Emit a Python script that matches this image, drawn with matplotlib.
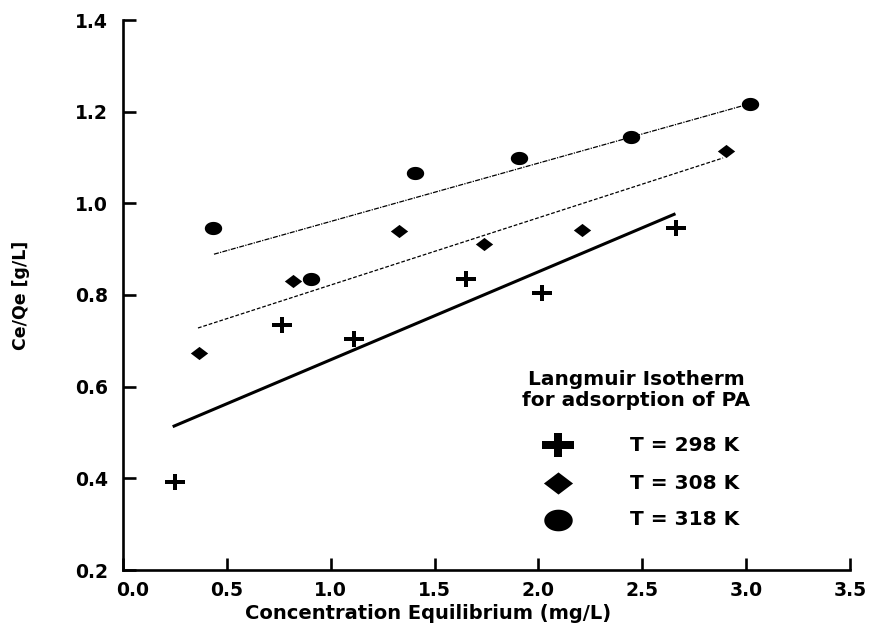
import numpy as np
import matplotlib
matplotlib.use("Agg")
import matplotlib.pyplot as plt
from matplotlib.path import Path
from matplotlib.transforms import ScaledTranslation

plt.rcParams['font.family'] = ['DejaVu Sans']
plt.rcParams['font.weight'] = 'bold'

# Ce/Qe against Ce for three temperatures
x298 = [0.25, 0.766, 1.112, 1.651, 2.017, 2.662]
y298 = [0.393, 0.734, 0.703, 0.835, 0.805, 0.946]
x308 = [0.366, 0.818, 1.329, 1.738, 2.210, 2.903]
y308 = [0.673, 0.830, 0.940, 0.912, 0.941, 1.114]
x318 = [0.433, 0.905, 1.406, 1.907, 2.445, 3.019]
y318 = [0.946, 0.834, 1.066, 1.099, 1.145, 1.217]

# linear fit lines (end points)
fit298_x = [0.246, 2.653]
fit298_y = [0.514, 0.976]
fit308_x = [0.361, 2.889]
fit308_y = [0.728, 1.099]
fit318_x = [0.438, 3.0]
fit318_y = [0.889, 1.215]

labels = ["T = 298 K", "T = 308 K", "T = 318 K"]
xticks = [0.0, 0.5, 1.0, 1.5, 2.0, 2.5, 3.0, 3.5]
yticks = [0.2, 0.4, 0.6, 0.8, 1.0, 1.2, 1.4]


def plus_path(t, b=0.75):
    return Path([(-1, -t), (-t, -t), (-t, -b), (t, -b), (t, -t), (1, -t),
                 (1, t), (t, t), (t, b), (-t, b), (-t, t), (-1, t), (-1, -t)],
                closed=True)


# slightly flattened marker shapes
plus = plus_path(0.22)
plus_big = plus_path(0.26, 0.78)
diamond = Path([(-1, 0), (0, -0.76), (1, 0), (0, 0.76), (-1, 0)], closed=True)
th = np.linspace(0, 2 * np.pi, 61)
ellipse = Path(np.column_stack([np.cos(th), 0.76 * np.sin(th)]), closed=True)

fig = plt.figure(figsize=(8.71, 6.26), dpi=100)
ax = fig.add_axes([123 / 871, 1 - 570 / 626, 727 / 871, 550 / 626])

series = [
    (x298, y298, fit298_x, fit298_y, plus, 14.5, dict(ls='-', lw=2.2)),
    (x308, y308, fit308_x, fit308_y, diamond, 12.5, dict(ls=(0, (3, 1.5)), lw=0.9)),
    (x318, y318, fit318_x, fit318_y, ellipse, 12.5, dict(ls=(0, (4, 1, 1, 1)), lw=0.9)),
]

for xs, ys, fx, fy, mk, ms, lstyle in series:
    ax.plot(fx, fy, color='black', **lstyle)
    ax.plot(xs, ys, ls='none', marker=mk, ms=ms, color='black', mew=0, clip_on=False)

ax.set_xlim(0, 3.5)
ax.set_ylim(0.2, 1.4)
ax.set_xticks(xticks)
ax.set_yticks(yticks)
ax.set_xticklabels([f"{v:.1f}" for v in xticks])
ax.set_yticklabels([f"{v:.1f}" for v in yticks])
for s in ['top', 'right']:
    ax.spines[s].set_visible(False)
for s in ['left', 'bottom']:
    ax.spines[s].set_linewidth(1.9)
ax.tick_params(direction='in', length=9, width=1.9, labelsize=13.5)
ax.tick_params(axis='y', pad=11)
ax.tick_params(axis='x', pad=8)

# nudge the 0.0 label away from the y axis
lab0 = ax.get_xticklabels()[0]
lab0.set_transform(lab0.get_transform() + ScaledTranslation(0.1, 0, fig.dpi_scale_trans))

ax.set_xlabel("Concentration Equilibrium (mg/L)", fontsize=14, fontweight='bold', va='center')
ax.xaxis.set_label_coords(0.42, -0.079)
ax.set_ylabel("Ce/Qe [g/L]", fontsize=12.5, fontweight='bold')
ax.yaxis.set_label_coords(-0.128, 0.5)

# legend block
ax.text(0.706, 0.347, "Langmuir Isotherm", transform=ax.transAxes,
        ha='center', va='center', fontsize=14.5)
ax.text(0.706, 0.309, "for adsorption of PA", transform=ax.transAxes,
        ha='center', va='center', fontsize=14.5)
rows = [0.227, 0.158, 0.091]
leg_marks = [plus_big, diamond, ellipse]
leg_ms = [23, 21, 20.5]
for lab, ry, mk, lm in zip(labels, rows, leg_marks, leg_ms):
    ax.plot([0.598], [ry], transform=ax.transAxes, marker=mk, ms=lm,
            color='black', mew=0, ls='none', clip_on=False)
    ax.text(0.697, ry, lab, transform=ax.transAxes, ha='left', va='center', fontsize=14.5)

fig.savefig("out.png", dpi=100)
